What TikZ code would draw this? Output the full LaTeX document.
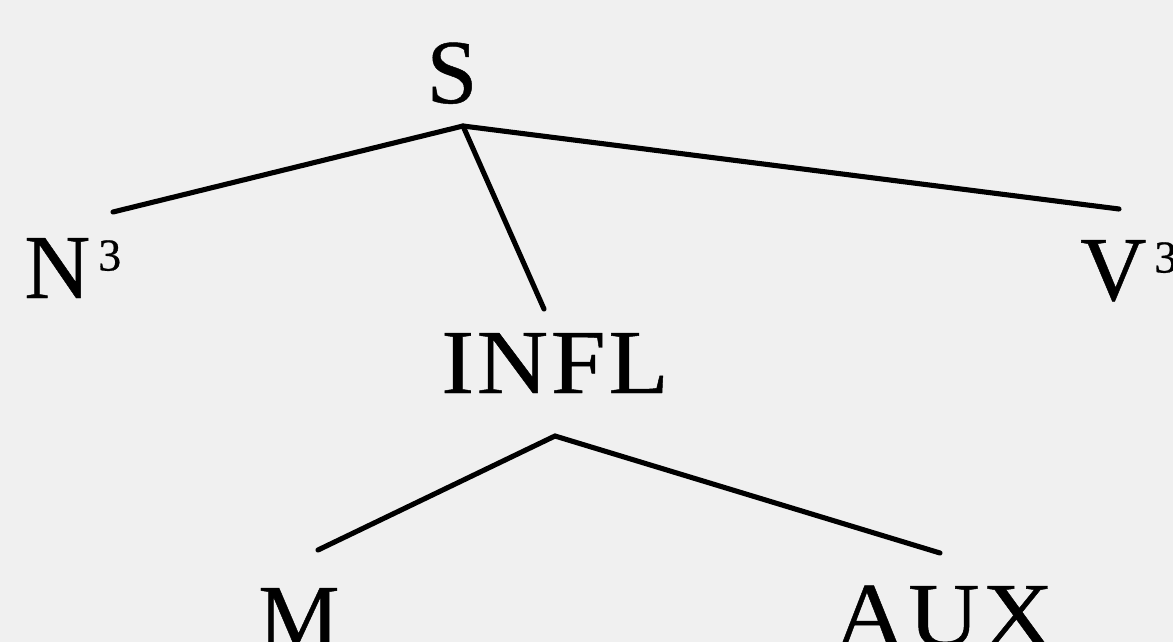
\documentclass[tikz,border=0pt]{standalone}
\usepackage{fontspec}
\setmainfont{Liberation Serif}
\definecolor{bg}{RGB}{240,240,240}
\newcommand\supnum[1]{\kern0.16cm\raisebox{0.55cm}{\fontsize{26}{26}\selectfont\addfontfeatures{FakeBold=0.6} #1}}
\begin{document}
\begin{tikzpicture}[x=0.02cm,y=-0.02cm,
  lab/.style={inner sep=0pt, font=\fontsize{52}{52}\selectfont\addfontfeatures{FakeBold=0.5}},
  wide/.style={lab, font=\fontsize{52}{52}\selectfont\addfontfeatures{FakeBold=0.5,FakeStretch=1.08,LetterSpace=3}},
  edge/.style={line width=2.9pt, line cap=round}]
\fill[bg] (0,0) rectangle (1173,642);
\useasboundingbox (0,0) rectangle (1173,642);
% nodes
\node[lab, anchor=base] (S) at (452,103) {S};
\node[lab, anchor=base west] (N) at (24,298) {N\supnum{3}};
\node[lab, anchor=base west] (V) at (1080,300) {V\supnum{3}};
\node[wide, anchor=base west] (INFL) at (441,393) {INFL};
\node[lab, anchor=base west] (M) at (258,648) {M};
\node[wide, anchor=base west] (AUX) at (834,646) {AUX};
% connector end points
\coordinate (Sroot) at (463,126);
\coordinate (Nend) at (113,212);
\coordinate (Vend) at (1119,209);
\coordinate (Iend) at (544,309);
\coordinate (Iroot) at (555,436);
\coordinate (Mend) at (318,550);
\coordinate (Aend) at (940,553);
% connectors
\draw[edge] (Nend) -- (Sroot) -- (Vend);
\draw[edge] (Sroot) -- (Iend);
\draw[edge] (Mend) -- (Iroot) -- (Aend);
\end{tikzpicture}
\end{document}
